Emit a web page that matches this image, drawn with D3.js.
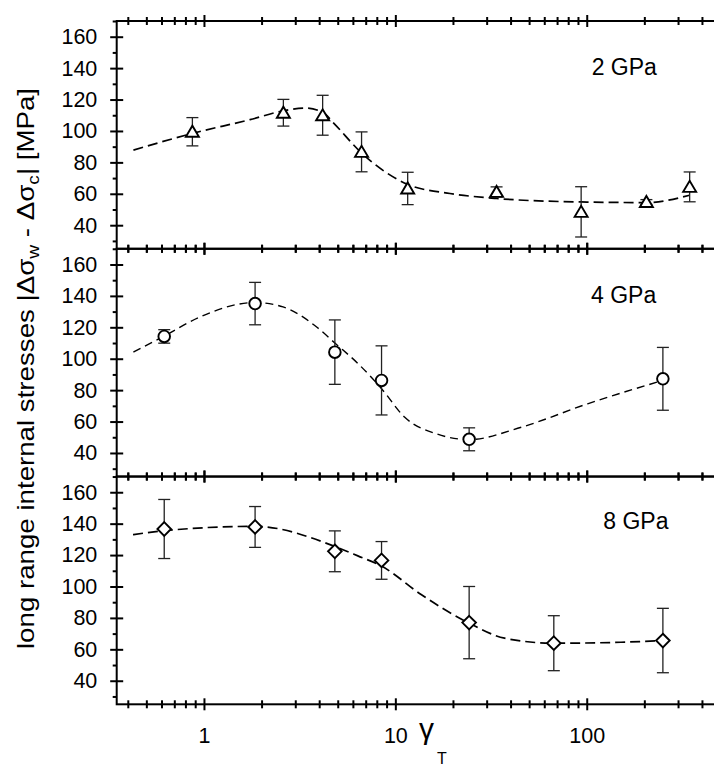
<!DOCTYPE html>
<html>
<head>
<meta charset="utf-8">
<script src="https://cdn.jsdelivr.net/npm/d3@7"></script>
<style>
body { margin: 0; background: #fff; }
svg text { font-family: "Liberation Sans", Arial, sans-serif; fill: #000; }
</style>
</head>
<body>
<script>
// Valori (gamma_T, tensione [MPa], errore)
var gamma2 = [0.87, 2.6, 4.17, 6.66, 11.6, 33.8, 93.5, 205, 345];
var sigma2 = [99.5, 111.6, 110, 86.7, 63.4, 61.2, 48.5, 54.8, 64.4];
var err2   = [9, 8.5, 12.7, 12.7, 10.3, 3.2, 16, 1.5, 9.5];

var gamma4 = [0.62, 1.85, 4.83, 8.47, 24.3, 250];
var sigma4 = [114.2, 135.1, 104.2, 86.2, 48.7, 87.2];
var err4   = [4.3, 13.5, 20.5, 22, 7.3, 20];

var gamma8 = [0.62, 1.85, 4.83, 8.47, 24.3, 67.3, 250];
var sigma8 = [136.6, 137.9, 122.4, 116.6, 77, 63.9, 65.6];
var err8   = [18.8, 13, 13, 12, 23, 17.5, 20.5];

// curve tratteggiate (fit)
var fit2Gamma = [0.428, 0.873, 1.74, 2.6, 3.37, 4.17, 4.72, 6.66, 11.6, 19.3, 33.8, 93.5, 205, 345];
var fit2Sigma = [87.8, 98.5, 107.2, 112.8, 114.6, 112, 105.5, 86, 66, 60.2, 57, 54.8, 54.4, 59.1];
var fit4Gamma = [0.428, 0.62, 0.953, 1.85, 2.59, 3.88, 4.83, 6.37, 8.47, 11.2, 16.6, 24.3, 45.5, 101, 250];
var fit4Sigma = [104.2, 114.4, 126.6, 135.8, 133, 120.2, 110, 97, 80.9, 62.7, 52, 48.5, 56.4, 71.3, 86.2];
var fit8Gamma = [0.426, 0.62, 1.85, 4.83, 6.37, 8.47, 13.7, 24.3, 37.2, 67.3, 151, 250];
var fit8Sigma = [133, 135.5, 138.3, 125.5, 119.5, 113, 94.7, 76.7, 67.1, 63.9, 64.5, 65.6];

var panelLabels = ["2 GPa", "4 GPa", "8 GPa"];
var labelPos = [[591.7, 75], [591, 303.3], [603.3, 529]];

// assi
var xDomain = [0.35, 500];
var yDomain = [25, 170];
var xMajor = [1, 10, 100];
var xMinor = [];
[0.1, 1, 10, 100].forEach(function(dec) {
    for (var k = 2; k <= 9; k++) {
        var v = k * dec;
        if (v > 0.35 && v < 500) xMinor.push(v);
    }
});
var yMajor = [40, 60, 80, 100, 120, 140, 160];
var yMinor = [30, 50, 70, 90, 110, 130, 150, 170];

var totalWidth = 714, totalHeight = 766;
var left = 116.7, right = 720.5, top0 = 21, bottom = 704.3;
var ph = (bottom - top0) / 3;

var svg = d3.select("body").append("svg")
    .attr("width", totalWidth)
    .attr("height", totalHeight);

svg.append("rect").attr("width", totalWidth).attr("height", totalHeight).attr("fill", "#fff");

var x = d3.scaleLog().domain(xDomain).range([left, right]);

// disegna solo i tick (niente etichette, niente linea)
function tickOnly(axis, tx, ty) {
    svg.append("g")
        .attr("transform", "translate(" + tx + "," + ty + ")")
        .call(axis.tickFormat(""))
        .call(function(g) {
            g.select(".domain").remove();
            g.selectAll("line").attr("stroke", "#000").attr("stroke-width", 2);
        });
}

var panels = [
    {g: gamma2, s: sigma2, e: err2, fg: fit2Gamma, fs: fit2Sigma, sym: "tri", dash: "10,5", lw: 1.7},
    {g: gamma4, s: sigma4, e: err4, fg: fit4Gamma, fs: fit4Sigma, sym: "circ", dash: "8,5", lw: 1.4},
    {g: gamma8, s: sigma8, e: err8, fg: fit8Gamma, fs: fit8Sigma, sym: "dia", dash: "10,5", lw: 1.7}
];

panels.forEach(function(p, i) {
    var t = top0 + i * ph;
    var y = d3.scaleLinear().domain(yDomain).range([t + ph, t]);

    // tick asse x sopra e sotto (incrociati)
    [t, t + ph].forEach(function(yy) {
        tickOnly(d3.axisTop(x).tickValues(xMajor).tickSize(6), 0, yy);
        tickOnly(d3.axisBottom(x).tickValues(xMajor).tickSize(6), 0, yy);
        tickOnly(d3.axisTop(x).tickValues(xMinor).tickSize(4), 0, yy);
        tickOnly(d3.axisBottom(x).tickValues(xMinor).tickSize(4), 0, yy);
    });

    // tick asse y
    tickOnly(d3.axisLeft(y).tickValues(yMajor).tickSize(6.5), left, 0);
    tickOnly(d3.axisRight(y).tickValues(yMajor).tickSize(6.5), left, 0);
    tickOnly(d3.axisLeft(y).tickValues(yMinor).tickSize(4), left, 0);
    tickOnly(d3.axisLeft(y).tickValues(yMajor).tickSize(6), right, 0);

    // etichette asse y
    svg.append("g")
        .attr("transform", "translate(" + left + ",0)")
        .call(d3.axisLeft(y).tickValues(yMajor).tickSize(0).tickPadding(19.4))
        .call(function(g) {
            g.select(".domain").remove();
            g.selectAll("text").attr("font-size", "21.5px").attr("font-family", "Liberation Sans, Arial, sans-serif").attr("fill", "#000");
        });

    // cornice
    svg.append("rect")
        .attr("x", left).attr("y", t)
        .attr("width", right - left).attr("height", ph)
        .attr("fill", "none").attr("stroke", "#000").attr("stroke-width", 2);

    // curva di fit
    var fit = p.fg.map(function(v, k) { return [v, p.fs[k]]; });
    svg.append("path")
        .datum(fit)
        .attr("d", d3.line()
            .x(function(d) { return x(d[0]); })
            .y(function(d) { return y(d[1]); })
            .curve(d3.curveMonotoneX))
        .attr("fill", "none")
        .attr("stroke", "#000")
        .attr("stroke-width", p.lw)
        .attr("stroke-dasharray", p.dash);

    var pts = p.g.map(function(v, k) { return {g: v, s: p.s[k], e: p.e[k]}; });

    // barre d'errore
    var eb = svg.append("g").attr("stroke", "#222").attr("stroke-width", 1.3);
    eb.selectAll(".ev").data(pts).enter().append("line")
        .attr("x1", function(d) { return x(d.g); })
        .attr("x2", function(d) { return x(d.g); })
        .attr("y1", function(d) { return y(d.s + d.e); })
        .attr("y2", function(d) { return y(d.s - d.e); });
    eb.selectAll(".et").data(pts).enter().append("line")
        .attr("x1", function(d) { return x(d.g) - 6; })
        .attr("x2", function(d) { return x(d.g) + 6; })
        .attr("y1", function(d) { return y(d.s + d.e); })
        .attr("y2", function(d) { return y(d.s + d.e); });
    eb.selectAll(".eb").data(pts).enter().append("line")
        .attr("x1", function(d) { return x(d.g) - 6; })
        .attr("x2", function(d) { return x(d.g) + 6; })
        .attr("y1", function(d) { return y(d.s - d.e); })
        .attr("y2", function(d) { return y(d.s - d.e); });

    // simboli
    var shape;
    if (p.sym == "tri") shape = "M -6.5 5 L 6.5 5 L 0 -6 Z";
    else if (p.sym == "dia") shape = "M 0 -6.8 L 6.8 0 L 0 6.8 L -6.8 0 Z";
    var mk = svg.append("g");
    if (p.sym == "circ") {
        mk.selectAll("circle").data(pts).enter().append("circle")
            .attr("cx", function(d) { return x(d.g); })
            .attr("cy", function(d) { return y(d.s); })
            .attr("r", 5.8)
            .attr("fill", "#fff").attr("stroke", "#000").attr("stroke-width", 1.9);
    } else {
        mk.selectAll("path").data(pts).enter().append("path")
            .attr("d", shape)
            .attr("transform", function(d) { return "translate(" + x(d.g) + "," + y(d.s) + ")"; })
            .attr("fill", "#fff").attr("stroke", "#000").attr("stroke-width", 1.9);
    }

    // etichetta pressione
    svg.append("text")
        .attr("x", labelPos[i][0]).attr("y", labelPos[i][1])
        .attr("font-size", "23px")
        .text(panelLabels[i]);
});

// etichette asse x (solo pannello in basso)
svg.append("g")
    .attr("transform", "translate(0," + bottom + ")")
    .call(d3.axisBottom(x).tickValues(xMajor).tickSize(0).tickPadding(23).tickFormat(d3.format("d")))
    .call(function(g) {
        g.select(".domain").remove();
        g.selectAll("text").attr("font-size", "21.5px").attr("font-family", "Liberation Sans, Arial, sans-serif").attr("fill", "#000");
    });

// titolo asse x: gamma_T
svg.append("text").attr("x", 419).attr("y", 738.5)
    .attr("font-family", "Liberation Serif, serif").attr("font-size", "30px").text("γ");
svg.append("text").attr("x", 437).attr("y", 764)
    .attr("font-size", "16px").text("T");

// titolo asse y (allungato lungo il testo come nell'originale)
var yt = svg.append("text")
    .attr("transform", "translate(33.5,368.5) rotate(-90) scale(1.13,1)")
    .attr("text-anchor", "middle")
    .attr("font-size", "24.5px");
yt.append("tspan").text("long range internal stresses |Δσ");
yt.append("tspan").attr("font-size", "17px").attr("dy", 5).text("w");
yt.append("tspan").attr("dy", -5).text(" - Δσ");
yt.append("tspan").attr("font-size", "17px").attr("dy", 5).text("c");
yt.append("tspan").attr("dy", -5).text("| [MPa]");
</script>
</body>
</html>
